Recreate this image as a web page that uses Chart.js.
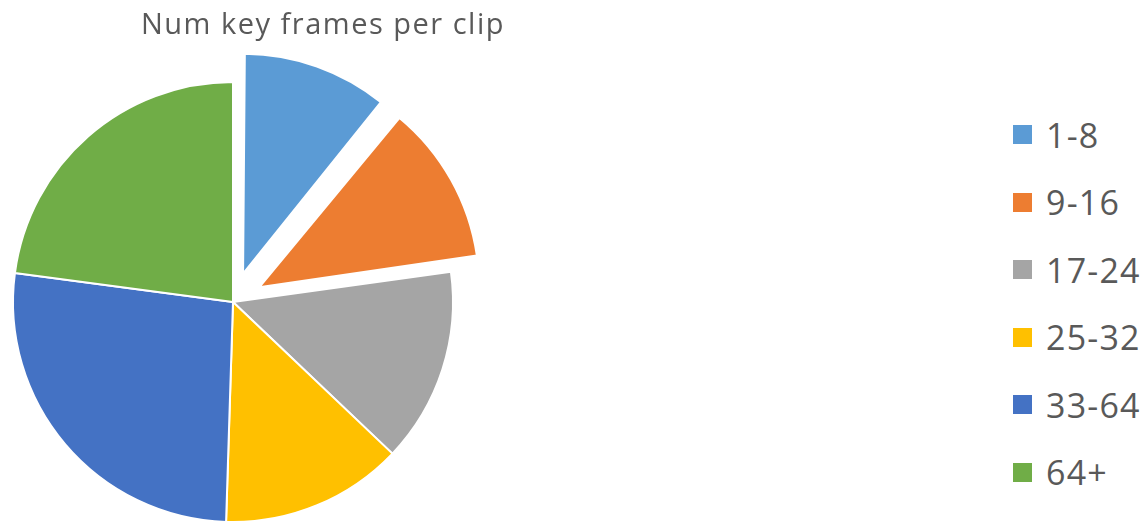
<!DOCTYPE html>
<html>
<head>
<meta charset="utf-8">
<script src="https://cdn.jsdelivr.net/npm/chart.js@4/dist/chart.umd.min.js"></script>
<style>
  html, body { margin: 0; padding: 0; background: #ffffff; overflow: hidden; }
  body { width: 1148px; height: 525px; position: relative; font-family: "Open Sans", sans-serif; }
  #pieBox { position: absolute; left: -117.5px; top: 0; width: 700px; height: 604px; }
  #title {
    position: absolute; left: 0; top: 3px; width: 646px;
    text-align: center; font-size: 29px; line-height: 40px; letter-spacing: 1.5px; color: #595959;
  }
  #legend {
    position: absolute; left: 1013px; top: 100.75px; margin: 0; padding: 0; list-style: none;
  }
  #legend li {
    height: 67.5px; display: flex; align-items: center;
    font-size: 34px; letter-spacing: 1.2px; color: #595959; white-space: nowrap;
  }
  #legend .swatch { width: 19px; height: 19px; margin-right: 14px; flex: none; }
</style>
</head>
<body>
<div id="pieBox"><canvas id="pie"></canvas></div>
<div id="title">Num key frames per clip</div>
<ul id="legend"></ul>
<script>
// Share of clips by number of key frames (percent)
const categories = ['1-8', '9-16', '17-24', '25-32', '33-64', '64+'];
const shares = [10.9, 11.9, 14.3, 13.4, 26.6, 22.9];
const explodedGroups = ['1-8', '9-16'];

const sliceColors = ['#5B9BD5', '#ED7D31', '#A5A5A5', '#FFC000', '#4472C4', '#70AD47'];

// Pulled-out wedges keep the same radius as the rest of the pie
// (the arc element otherwise grows narrow wedges a little when offset).
const evenRadius = {
  id: 'evenRadius',
  beforeDatasetsDraw(chart) {
    const meta = chart.getDatasetMeta(0);
    const base = meta.controller.outerRadius;
    meta.data.forEach(arc => {
      const off = (arc.options.offset || 0) / 4;
      const fix = 1 - Math.sin(Math.min(Math.PI, arc.circumference || 0));
      arc.outerRadius = base - off * fix;
    });
  }
};

const chart = new Chart(document.getElementById('pie'), {
  type: 'pie',
  data: {
    labels: categories,
    datasets: [{
      data: shares,
      backgroundColor: sliceColors,
      borderColor: '#ffffff',
      borderWidth: 2,
      offset: categories.map(c => explodedGroups.includes(c) ? 120 : 0),
      hoverOffset: 0
    }]
  },
  options: {
    responsive: true,
    maintainAspectRatio: false,
    animation: false,
    events: [],
    radius: 220,
    layout: { padding: 0 },
    plugins: {
      legend: { display: false },
      title: { display: false },
      tooltip: { enabled: false }
    }
  },
  plugins: [evenRadius]
});

// Legend list built from the chart's own legend items
const legendEl = document.getElementById('legend');
Chart.overrides.pie.plugins.legend.labels.generateLabels(chart).forEach(item => {
  const li = document.createElement('li');
  const sw = document.createElement('span');
  sw.className = 'swatch';
  sw.style.background = item.fillStyle;
  li.appendChild(sw);
  li.appendChild(document.createTextNode(item.text));
  legendEl.appendChild(li);
});
</script>
</body>
</html>
